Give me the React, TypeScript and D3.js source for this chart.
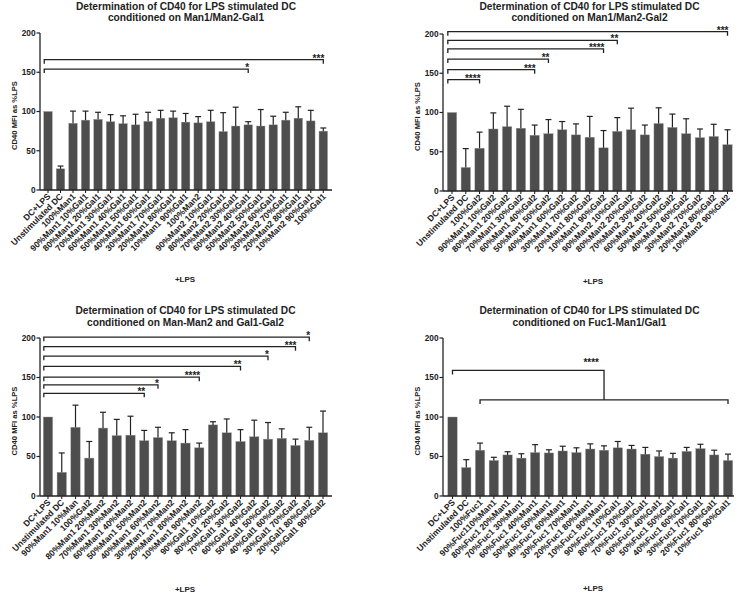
import React from "react";
import * as d3 from "d3";

// ---------- shared text ----------
const titleLine1 = "Determination of CD40 for LPS stimulated DC";
const yAxisLabel = "CD40 MFI as %LPS";
const xAxisLabel = "+LPS";
const yTicks = [0, 50, 100, 150, 200];

// ---------- panel 1 ----------
const p1Title2 = "conditioned on Man1/Man2-Gal1";
const p1Labels = [
  "DC+LPS", "Unstimulated DC", "100%Man1",
  "90%Man1 10%Gal1", "80%Man1 20%Gal1", "70%Man1 30%Gal1", "60%Man1 40%Gal1", "50%Man1 50%Gal1",
  "40%Man1 60%Gal1", "30%Man1 70%Gal1", "20%Man1 80%Gal1", "10%Man1 90%Gal1",
  "100%Man2",
  "90%Man2 10%Gal1", "80%Man2 20%Gal1", "70%Man2 30%Gal1", "60%Man2 40%Gal1", "50%Man2 50%Gal1",
  "40%Man2 60%Gal1", "30%Man2 70%Gal1", "20%Man2 80%Gal1", "10%Man2 90%Gal1",
  "100%Gal1",
];
const p1Means = [100, 27, 85, 89, 90, 87, 84.5, 83, 87.5, 91.5, 92, 86.5, 85.5, 87, 74.5, 81.5, 83, 81.5, 83, 89, 91.5, 88, 75];
const p1Errors = [0, 3.5, 15.5, 11.5, 9, 9, 10, 13.5, 11.5, 10, 8.5, 11, 8, 14.5, 24, 24, 4, 21, 11, 10, 14.5, 13.5, 4];
// [from index, to index, y value, label]
const p1Brackets: [number, number, number, string][] = [
  [0, 22, 166, "***"],
  [0, 16, 154, "*"],
];

// ---------- panel 2 ----------
const p2Title2 = "conditioned on Man1/Man2-Gal2";
const p2Labels = [
  "DC+LPS", "Unstimulated DC", "100%Gal2",
  "90%Man1 10%Gal2", "80%Man1 20%Gal2", "70%Man1 30%Gal2", "60%Man1 40%Gal2", "50%Man1 50%Gal2",
  "40%Man1 60%Gal2", "30%Man1 70%Gal2", "20%Man1 80%Gal2", "10%Man1 90%Gal2",
  "90%Man2 10%Gal2", "80%Man2 20%Gal2", "70%Man2 30%Gal2", "60%Man2 40%Gal2", "50%Man2 50%Gal2",
  "40%Man2 60%Gal2", "30%Man2 70%Gal2", "20%Man2 80%Gal2", "10%Man2 90%Gal2",
];
const p2Means = [100, 30, 54.5, 79, 82, 80, 71, 73, 78, 71.5, 68.5, 55, 76, 78, 71.5, 86, 81, 73, 68, 69.5, 59];
const p2Errors = [0, 24, 20.5, 20.5, 26, 24, 13, 18, 10.5, 14, 26.5, 22, 17.5, 27.5, 12.5, 20, 17, 19, 11, 15.5, 19];
const p2Brackets: [number, number, number, string][] = [
  [0, 20, 203, "***"],
  [0, 12, 192, "**"],
  [0, 11, 181, "****"],
  [0, 7, 168, "**"],
  [0, 6, 154.5, "***"],
  [0, 2, 142, "****"],
];

// ---------- panel 3 ----------
const p3Title2 = "conditioned on Man-Man2 and Gal1-Gal2";
const p3Labels = [
  "DC+LPS", "Unstimulated DC", "90%Man1 10%Man", "100%Gal2",
  "80%Man1 20%Man2", "70%Man1 30%Man2", "60%Man1 40%Man2", "50%Man1 50%Man2",
  "40%Man1 60%Man2", "30%Man1 70%Man2", "20%Man1 80%Man2", "10%Man1 90%Man2",
  "90%Gal1 10%Gal2", "80%Gal1 20%Gal2", "70%Gal1 30%Gal2", "60%Gal1 40%Gal2", "50%Gal1 50%Gal2",
  "40%Gal1 60%Gal2", "30%Gal1 70%Gal2", "20%Gal1 80%Gal2", "10%Gal1 90%Gal2",
];
const p3Means = [100, 30, 87, 48, 86, 76.5, 77, 70, 74, 70, 67, 61, 90, 80, 69, 75, 72, 73, 64, 70.5, 80];
const p3Errors = [0, 24.5, 28, 21, 20, 20.5, 24, 13, 13, 10, 17, 6, 4, 17.5, 15, 21, 21, 12, 8, 16.5, 27.5];
const p3Brackets: [number, number, number, string][] = [
  [0, 19, 201, "*"],
  [0, 18, 189, "***"],
  [0, 16, 177, "*"],
  [0, 14, 164, "**"],
  [0, 11, 150.4, "****"],
  [0, 8, 140.7, "*"],
  [0, 7, 130, "**"],
];

// ---------- panel 4 ----------
const p4Title2 = "conditioned on Fuc1-Man1/Gal1";
const p4Labels = [
  "DC+LPS", "Unstimulated DC", "100%Fuc1",
  "90%Fuc110%Man1", "80%Fuc1 20%Man1", "70%Fuc1 30%Man1", "60%Fuc1 40%Man1", "50%Fuc1 50%Man1",
  "40%Fuc1 60%Man1", "30%Fuc1 70%Man1", "20%Fuc1 80%Man1", "10%Fuc1 90%Man1",
  "90%Fuc1 10%Gal1", "80%Fuc1 20%Gal1", "70%Fuc1 30%Gal1", "60%Fuc1 40%Gal1", "50%Fuc1 50%Gal1",
  "40%Fuc1 60%Gal1", "30%Fuc1 70%Gal1", "20%Fuc1 80%Gal1", "10%Fuc1 90%Gal1",
];
const p4Means = [100, 36, 58, 45, 52, 48, 55, 54.5, 57, 55, 59.5, 58, 61, 59.5, 53, 50, 48, 56.5, 60, 52, 45];
const p4Errors = [0, 10, 9, 4, 4, 5.5, 10, 4, 6, 6, 6.5, 5.5, 8, 4.5, 8.5, 7, 6, 5, 5.5, 6, 8];
// group bracket: control index, group start, group end, upper value, lower value, label
const p4Group: [number, number, number, number, number, string] = [0, 2, 20, 159, 121.6, "****"];

// ---------- layout ----------
type Cfg = {
  axisX: number; axisEnd: number; c0: number; c1: number; y0: number; y200: number;
  titleX: number; titleY1: number; titleY2: number; ylabX: number; lpsX: number; lpsY: number;
  bracketFromEdge: boolean;
};

const FONT = "'Liberation Sans', Arial, Helvetica, sans-serif";
const INK = "#222";
const BAR = "#4d4d4d";
const STAR_FS = 10;

function Panel(props: {
  cfg: Cfg; labels: string[]; means: number[]; errors: number[]; title2: string;
  brackets?: [number, number, number, string][];
  group?: [number, number, number, number, number, string];
}) {
  const { cfg, labels, means, errors, title2, brackets, group } = props;
  const step = (cfg.c1 - cfg.c0) / (labels.length - 1);
  const x = d3.scaleBand<string>()
    .domain(labels)
    .range([cfg.c0 - step / 2, cfg.c1 + step / 2])
    .paddingInner(0.32)
    .paddingOuter(0.16);
  const y = d3.scaleLinear().domain([0, 200]).range([cfg.y0, cfg.y200]);
  const bw = x.bandwidth();
  const cx = (i: number) => (x(labels[i]) as number) + bw / 2;
  const capW = Math.min(6, bw * 0.7);

  return (
    <g>
      <text x={cfg.titleX} y={cfg.titleY1} textAnchor="middle" fontSize={10.2} fontWeight="bold" fill={INK}>{titleLine1}</text>
      <text x={cfg.titleX} y={cfg.titleY2} textAnchor="middle" fontSize={10.2} fontWeight="bold" fill={INK}>{title2}</text>

      {/* bars */}
      {labels.map((l, i) => (
        <rect key={"b" + i} x={x(l)} y={y(means[i])} width={bw} height={y(0) - y(means[i])} fill={BAR} stroke="#9a9a9a" strokeWidth={0.4} />
      ))}
      {/* error bars */}
      {labels.map((l, i) => errors[i] > 0 ? (
        <g key={"e" + i} stroke={INK} strokeWidth={1.2}>
          <line x1={cx(i)} x2={cx(i)} y1={y(means[i])} y2={y(means[i] + errors[i])} />
          <line x1={cx(i) - capW / 2} x2={cx(i) + capW / 2} y1={y(means[i] + errors[i])} y2={y(means[i] + errors[i])} />
        </g>
      ) : null)}

      {/* y axis */}
      <line x1={cfg.axisX} x2={cfg.axisX} y1={y(0)} y2={y(200)} stroke={INK} strokeWidth={1.3} />
      {yTicks.map((t) => (
        <g key={"yt" + t}>
          <line x1={cfg.axisX - 3.5} x2={cfg.axisX} y1={y(t)} y2={y(t)} stroke={INK} strokeWidth={1.2} />
          <text x={cfg.axisX - 4.5} y={y(t)} dy="0.35em" textAnchor="end" fontSize={8.3} fontWeight="bold" fill={INK}>{t}</text>
        </g>
      ))}
      <text transform={`translate(${cfg.ylabX},${(cfg.y0 + cfg.y200) / 2 + 4}) rotate(-90)`} textAnchor="middle" dy="0.35em" fontSize={7.6} fontWeight="bold" fill={INK}>{yAxisLabel}</text>

      {/* x axis */}
      <line x1={cfg.axisX} x2={cfg.axisEnd} y1={y(0)} y2={y(0)} stroke={INK} strokeWidth={1.5} />
      {labels.map((l, i) => (
        <line key={"xt" + i} x1={cx(i)} x2={cx(i)} y1={y(0)} y2={y(0) + 3} stroke={INK} strokeWidth={1.1} />
      ))}
      {labels.map((l, i) => (
        <text key={"xl" + i} transform={`translate(${cx(i) + 3},${y(0) + 7}) rotate(-45)`} textAnchor="end" fontSize={8.6} fontWeight="bold" fill={INK}>{l}</text>
      ))}
      <text x={cfg.lpsX} y={cfg.lpsY} textAnchor="middle" fontSize={8} fontWeight="bold" fill={INK}>{xAxisLabel}</text>

      {/* significance brackets */}
      {brackets && brackets.map(([a, b, v, lab], k) => {
        const xl = cfg.bracketFromEdge ? (x(labels[a]) as number) + 0.5 : cx(a);
        const xr = cx(b);
        const yy = y(v);
        return (
          <g key={"br" + k}>
            <path d={`M${xl},${yy + 4}V${yy}H${xr}V${yy + 4}`} fill="none" stroke={INK} strokeWidth={1.3} />
            <text x={xr + 1} y={yy + 2} textAnchor="end" fontSize={STAR_FS} fontWeight="bold" fill={INK}>{lab}</text>
          </g>
        );
      })}
      {group && (() => {
        const [ctrl, g0, g1, vu, vl, lab] = group;
        const xa = cx(ctrl);
        const xg0 = cx(g0);
        const xg1 = cx(g1);
        const xm = (xg0 + xg1) / 2;
        const yu = y(vu);
        const yl = y(vl);
        return (
          <g>
            <path d={`M${xa},${yu + 4}V${yu}H${xm}V${yl}`} fill="none" stroke={INK} strokeWidth={1.3} />
            <path d={`M${xg0},${yl + 4}V${yl}H${xg1}V${yl + 4}`} fill="none" stroke={INK} strokeWidth={1.3} />
            <text x={xm - 5} y={yu - 4} textAnchor="end" fontSize={STAR_FS} fontWeight="bold" fill={INK}>{lab}</text>
          </g>
        );
      })()}
    </g>
  );
}

const cfg1: Cfg = { axisX: 40, axisEnd: 332, c0: 48, c1: 323.3, y0: 190, y200: 33, titleX: 186, titleY1: 10, titleY2: 21, ylabX: 14, lpsX: 185, lpsY: 281.5, bracketFromEdge: true };
const cfg2: Cfg = { axisX: 443, axisEnd: 733, c0: 452, c1: 727.5, y0: 191, y200: 34, titleX: 589.5, titleY1: 10, titleY2: 21, ylabX: 417, lpsX: 593, lpsY: 284, bracketFromEdge: true };
const cfg3: Cfg = { axisX: 40, axisEnd: 332, c0: 48, c1: 323, y0: 496, y200: 338, titleX: 185.5, titleY1: 314, titleY2: 325.5, ylabX: 14, lpsX: 185, lpsY: 592, bracketFromEdge: true };
const cfg4: Cfg = { axisX: 443, axisEnd: 734, c0: 452.5, c1: 728, y0: 496, y200: 338, titleX: 589.5, titleY1: 314, titleY2: 325.5, ylabX: 417, lpsX: 593, lpsY: 590.5, bracketFromEdge: false };

export default function App() {
  return (
    <svg width={738} height={593} style={{ position: "absolute", left: 0, top: 0, background: "#fff" }} fontFamily={FONT}>
      <rect width={738} height={593} fill="#fff" />
      <Panel cfg={cfg1} labels={p1Labels} means={p1Means} errors={p1Errors} title2={p1Title2} brackets={p1Brackets} />
      <Panel cfg={cfg2} labels={p2Labels} means={p2Means} errors={p2Errors} title2={p2Title2} brackets={p2Brackets} />
      <Panel cfg={cfg3} labels={p3Labels} means={p3Means} errors={p3Errors} title2={p3Title2} brackets={p3Brackets} />
      <Panel cfg={cfg4} labels={p4Labels} means={p4Means} errors={p4Errors} title2={p4Title2} group={p4Group} />
    </svg>
  );
}
